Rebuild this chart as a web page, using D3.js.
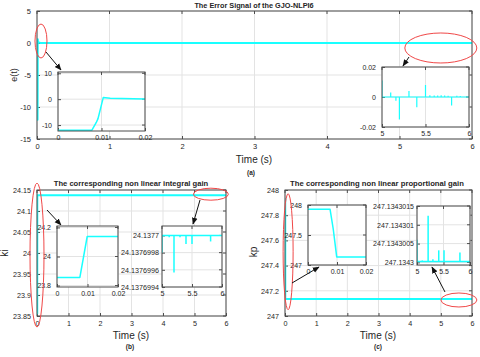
<!DOCTYPE html>
<html><head><meta charset="utf-8">
<script src="https://cdn.jsdelivr.net/npm/d3@7"></script>
<style>html,body{margin:0;padding:0;background:#fff;}svg{display:block;font-family:"Liberation Sans",Arial,sans-serif;}</style>
</head><body><svg id="c" width="480" height="357"></svg>
<script>
// ---------------- DATA ----------------
// (a) error signal
const errT = [0, 0.0078, 0.0088, 0.0092, 0.0104, 0.012, 0.02, 0.05, 6];
const errV = [-12, -12, -9, -7.5, 0.6, 0.35, 0.1, 0, 0];
const errSpikeT = [5.0, 5.1, 5.16, 5.2, 5.31, 5.40, 5.5, 5.55, 5.6, 5.64, 5.68, 5.72, 5.76, 5.8, 5.86, 5.9];
const errSpikeV = [0.011, 0.003, -0.0025, -0.015, 0.004, -0.0068, 0.008, 0.0012, 0.001, 0.001, 0.0012, 0.001, 0.0008, -0.0057, 0.0008, 0.0006];
const errBase = 0;
// (b) integral gain ki
const kiT = [0, 0.0075, 0.0099, 0.02, 6];
const kiV = [23.856, 23.856, 24.1377, 24.1377, 24.1377];
const kiBase = 24.1377;
const kiSpikeT = [5.0, 5.12, 5.2, 5.3, 5.4, 5.5, 5.81];
const kiSpikeV = [24.1376998, 24.13769998, 24.13769957, 24.13769998, 24.1376999, 24.1376999, 24.13769993];
// (c) proportional gain kp
const kpT = [0, 0.0076, 0.0087, 0.0099, 0.02, 6];
const kpV = [247.93, 247.93, 247.6, 247.1343, 247.1343, 247.1343];
const kpBase = 247.13430002;
const kpSpikeT = [5.0, 5.1, 5.21, 5.3, 5.41, 5.51, 5.81];
const kpSpikeV = [247.1343006, 247.13430005, 247.13430124, 247.13430008, 247.13430032, 247.13430032, 247.13430026];

// tick values / labels
const mainXTicks = [0, 1, 2, 3, 4, 5, 6];
const mainXLabels = ["0", "1", "2", "3", "4", "5", "6"];
const aYTicks = [-15, -10, -5, 0, 5];
const aYLabels = ["-15", "-10", "-5", "0", "5"];
const zoomStartXTicks = [0, 0.01, 0.02];
const zoomStartXLabels = ["0", "0.01", "0.02"];
const zoomEndXTicks = [5, 5.5, 6];
const zoomEndXLabels = ["5", "5.5", "6"];
const a1YTicks = [-10, 0, 10];
const a1YLabels = ["-10", "0", "10"];
const a2YTicks = [-0.02, 0, 0.02];
const a2YLabels = ["-0.02", "0", "0.02"];
const bYTicks = [23.85, 23.9, 23.95, 24, 24.05, 24.1, 24.15];
const bYLabels = ["23.85", "23.9", "23.95", "24", "24.05", "24.1", "24.15"];
const b1YTicks = [23.8, 24, 24.2];
const b1YLabels = ["23.8", "24", "24.2"];
const b2YTicks = [24.1376994, 24.1376996, 24.1376998, 24.1377];
const b2YLabels = ["24.1376994", "24.1376996", "24.1376998", "24.1377"];
const cYTicks = [247, 247.2, 247.4, 247.6, 247.8, 248];
const cYLabels = ["247", "247.2", "247.4", "247.6", "247.8", "248"];
const c1YTicks = [247, 247.5, 248];
const c1YLabels = ["247", "247.5", "248"];
const c2YTicks = [247.1343, 247.1343005, 247.134301, 247.1343015];
const c2YLabels = ["247.1343", "247.1343005", "247.134301", "247.1343015"];

// ---------------- DRAW ----------------
const svg = d3.select("#c");
svg.append("rect").attr("width", 480).attr("height", 357).attr("fill", "#fff");
const defs = svg.append("defs");
defs.append("marker").attr("id", "arr").attr("viewBox", "0 0 10 10").attr("refX", 9).attr("refY", 5)
  .attr("markerWidth", 7).attr("markerHeight", 7).attr("orient", "auto-start-reverse")
  .append("path").attr("d", "M0,1 L10,5 L0,9 Z").attr("fill", "#111");

const CYAN = "#19ffff";
const AXC = "#4d4d4d";
const TXT = "#262626";
let clipId = 0;

function axesBox(o) {
  const g = svg.append("g");
  const x = d3.scaleLinear().domain(o.xd).range([o.x0, o.x1]);
  const y = d3.scaleLinear().domain(o.yd).range([o.y1, o.y0]);
  g.append("rect").attr("x", o.x0).attr("y", o.y0).attr("width", o.x1 - o.x0).attr("height", o.y1 - o.y0)
    .attr("fill", "#fff");
  // grid
  g.selectAll(".gx").data(o.xt).join("line").attr("x1", d => x(d)).attr("x2", d => x(d))
    .attr("y1", o.y0).attr("y2", o.y1).attr("stroke", "#e3e3e3").attr("stroke-width", 1);
  g.selectAll(".gy").data(o.yt).join("line").attr("y1", d => y(d)).attr("y2", d => y(d))
    .attr("x1", o.x0).attr("x2", o.x1).attr("stroke", "#e3e3e3").attr("stroke-width", 1);
  // axes via d3 axis
  const fs = o.fs || 7;
  const xa = d3.axisBottom(x).tickValues(o.xt).tickFormat((d, i) => o.xl[i]).tickSizeInner(-3).tickSizeOuter(0).tickPadding(o.xpad || 5);
  const ya = d3.axisLeft(y).tickValues(o.yt).tickFormat((d, i) => o.yl[i]).tickSizeInner(-3).tickSizeOuter(0).tickPadding(o.ypad || 6);
  const gx = g.append("g").attr("transform", `translate(0,${o.y1})`).call(xa);
  const gy = g.append("g").attr("transform", `translate(${o.x0},0)`).call(ya);
  [gx, gy].forEach(a => {
    a.select(".domain").remove();
    a.selectAll("line").attr("stroke", AXC);
    a.selectAll("text").attr("fill", TXT).style("font-size", fs + "px").style("font-family", "Liberation Sans, Arial, sans-serif");
  });
  // top/right ticks
  g.selectAll(".tt").data(o.xt).join("line").attr("x1", d => x(d)).attr("x2", d => x(d))
    .attr("y1", o.y0).attr("y2", o.y0 + 3).attr("stroke", AXC);
  g.selectAll(".tr").data(o.yt).join("line").attr("y1", d => y(d)).attr("y2", d => y(d))
    .attr("x1", o.x1).attr("x2", o.x1 - 3).attr("stroke", AXC);
  const id = "clip" + (clipId++);
  defs.append("clipPath").attr("id", id).append("rect").attr("x", o.x0).attr("y", o.y0)
    .attr("width", o.x1 - o.x0).attr("height", o.y1 - o.y0);
  const plot = g.append("g").attr("clip-path", `url(#${id})`);
  const border = g.append("rect").attr("x", o.x0).attr("y", o.y0).attr("width", o.x1 - o.x0).attr("height", o.y1 - o.y0)
    .attr("fill", "none").attr("stroke", o.bc || AXC).attr("stroke-width", 1);
  return { g, x, y, plot, border };
}

function drawLine(ax, T, V, w) {
  const line = d3.line().x(d => ax.x(d[0])).y(d => ax.y(d[1]));
  ax.plot.append("path").datum(T.map((t, i) => [t, V[i]])).attr("d", line)
    .attr("fill", "none").attr("stroke", CYAN).attr("stroke-width", w).attr("stroke-linejoin", "round");
  ax.border.raise();
}
function drawSpikes(ax, base, T, V, w) {
  ax.plot.append("line").attr("x1", ax.x(ax.x.domain()[0])).attr("x2", ax.x(ax.x.domain()[1]))
    .attr("y1", ax.y(base)).attr("y2", ax.y(base)).attr("stroke", CYAN).attr("stroke-width", w);
  ax.plot.selectAll(".sp").data(T.map((t, i) => [t, V[i]])).join("line")
    .attr("x1", d => ax.x(d[0])).attr("x2", d => ax.x(d[0]))
    .attr("y1", ax.y(base)).attr("y2", d => ax.y(d[1]))
    .attr("stroke", CYAN).attr("stroke-width", w);
  ax.border.raise();
}
function ellipse(ax, cx, cy, rx, ry) {
  svg.append("ellipse").attr("cx", ax.x(cx)).attr("cy", ax.y(cy)).attr("rx", rx).attr("ry", ry)
    .attr("fill", "none").attr("stroke", "#f04848").attr("stroke-width", 1);
}
function arrow(x1, y1, x2, y2) {
  svg.append("line").attr("x1", x1).attr("y1", y1).attr("x2", x2).attr("y2", y2)
    .attr("stroke", "#111").attr("stroke-width", 1).attr("marker-end", "url(#arr)");
}
function text(x, y, s, fs, opts = {}) {
  const t = svg.append("text").attr("x", x).attr("y", y).text(s).attr("text-anchor", "middle")
    .attr("fill", opts.fill || TXT).style("font-size", fs + "px")
    .style("font-weight", opts.bold ? "bold" : "normal");
  if (opts.rot) t.attr("transform", `rotate(-90,${x},${y})`);
  return t;
}

// ===== Panel (a) =====
const A = axesBox({ x0: 37, x1: 472, y0: 11, y1: 139, xd: [0, 6], yd: [-15, 5],
  xt: mainXTicks, xl: mainXLabels, yt: aYTicks, yl: aYLabels, fs: 7.5, xpad: 5 });
drawLine(A, errT, errV, 2);
text(254, 8, "The Error Signal of the GJO-NLPI6", 7.3, { bold: true });
text(17, 75, "e(t)", 9, { rot: true });
text(254, 163, "Time (s)", 10);
text(251, 175, "(a)", 6.5, { bold: true });

const A1 = axesBox({ x0: 58, x1: 145, y0: 72, y1: 131, xd: [0, 0.02], yd: [-12.3, 10.5],
  xt: zoomStartXTicks, xl: zoomStartXLabels, yt: a1YTicks, yl: a1YLabels, fs: 7, xpad: 4 });
drawLine(A1, errT, errV, 1.5);
const A2 = axesBox({ x0: 382, x1: 469, y0: 67, y1: 127, xd: [5, 6], yd: [-0.02, 0.02],
  xt: zoomEndXTicks, xl: zoomEndXLabels, yt: a2YTicks, yl: a2YLabels, fs: 7, xpad: 4 });
drawSpikes(A2, errBase, errSpikeT, errSpikeV, 1.2);
ellipse(A, 0.055, 0.31, 6, 17);
ellipse(A, 5.57, -0.78, 36, 15);
arrow(46, 52, 61, 70);
arrow(409, 57, 403, 66);

// ===== Panel (b) =====
const B = axesBox({ x0: 37, x1: 226, y0: 190, y1: 316, xd: [0, 6], yd: [23.85, 24.15],
  xt: mainXTicks, xl: mainXLabels, yt: bYTicks, yl: bYLabels, fs: 7.2, xpad: 5 });
drawLine(B, kiT, kiV, 2);
text(131, 186, "The corresponding non linear integral gain", 7.6, { bold: true });
text(8, 253, "ki", 10, { rot: true });
text(131, 339, "Time (s)", 10);
text(130, 349, "(b)", 6.5, { bold: true });
const B1 = axesBox({ x0: 57, x1: 118, y0: 226, y1: 287, xd: [0, 0.02], yd: [23.79, 24.21],
  xt: zoomStartXTicks, xl: zoomStartXLabels, yt: b1YTicks, yl: b1YLabels, fs: 7, xpad: 4 });
drawLine(B1, kiT, kiV, 1.5);
const B2 = axesBox({ x0: 162, x1: 222, y0: 226, y1: 287, xd: [5, 6], yd: [24.1376994, 24.13770011],
  xt: zoomEndXTicks, xl: zoomEndXLabels, yt: b2YTicks, yl: b2YLabels, fs: 7.2, xpad: 4, ypad: 3 });
drawSpikes(B2, kiBase, kiSpikeT, kiSpikeV, 1.5);
ellipse(B, 0, 23.995, 7, 72);
ellipse(B, 5.52, 24.14, 17.5, 6);
arrow(47, 210, 61, 225);
arrow(200, 200, 193, 224);

// ===== Panel (c) =====
const C = axesBox({ x0: 285, x1: 472, y0: 190, y1: 316, xd: [0, 6], yd: [247, 248],
  xt: mainXTicks, xl: mainXLabels, yt: cYTicks, yl: cYLabels, fs: 7.2, xpad: 5 });
drawLine(C, kpT, kpV, 2);
text(377, 186, "The corresponding non linear proportional gain", 7.7, { bold: true });
text(257, 252, "kp", 10, { rot: true });
text(378, 339, "Time (s)", 10);
text(378, 349, "(c)", 6.5, { bold: true });
const C1 = axesBox({ x0: 308, x1: 366, y0: 205, y1: 265, xd: [0, 0.02], yd: [247, 248],
  xt: zoomStartXTicks, xl: zoomStartXLabels, yt: c1YTicks, yl: c1YLabels, fs: 7, xpad: 4 });
drawLine(C1, kpT, kpV, 1.5);
const C2 = axesBox({ x0: 417, x1: 470, y0: 206, y1: 265, xd: [5, 6], yd: [247.13429993, 247.1343015],
  xt: zoomEndXTicks, xl: zoomEndXLabels, yt: c2YTicks, yl: c2YLabels, fs: 7, xpad: 4, ypad: 3 });
drawSpikes(C2, kpBase, kpSpikeT, kpSpikeV, 1.5);
ellipse(C, 0.1, 247.51, 5, 58);
ellipse(C, 5.58, 247.127, 18, 7);
arrow(292, 283, 319, 267);
arrow(445, 292, 432, 267);
</script></body></html>
